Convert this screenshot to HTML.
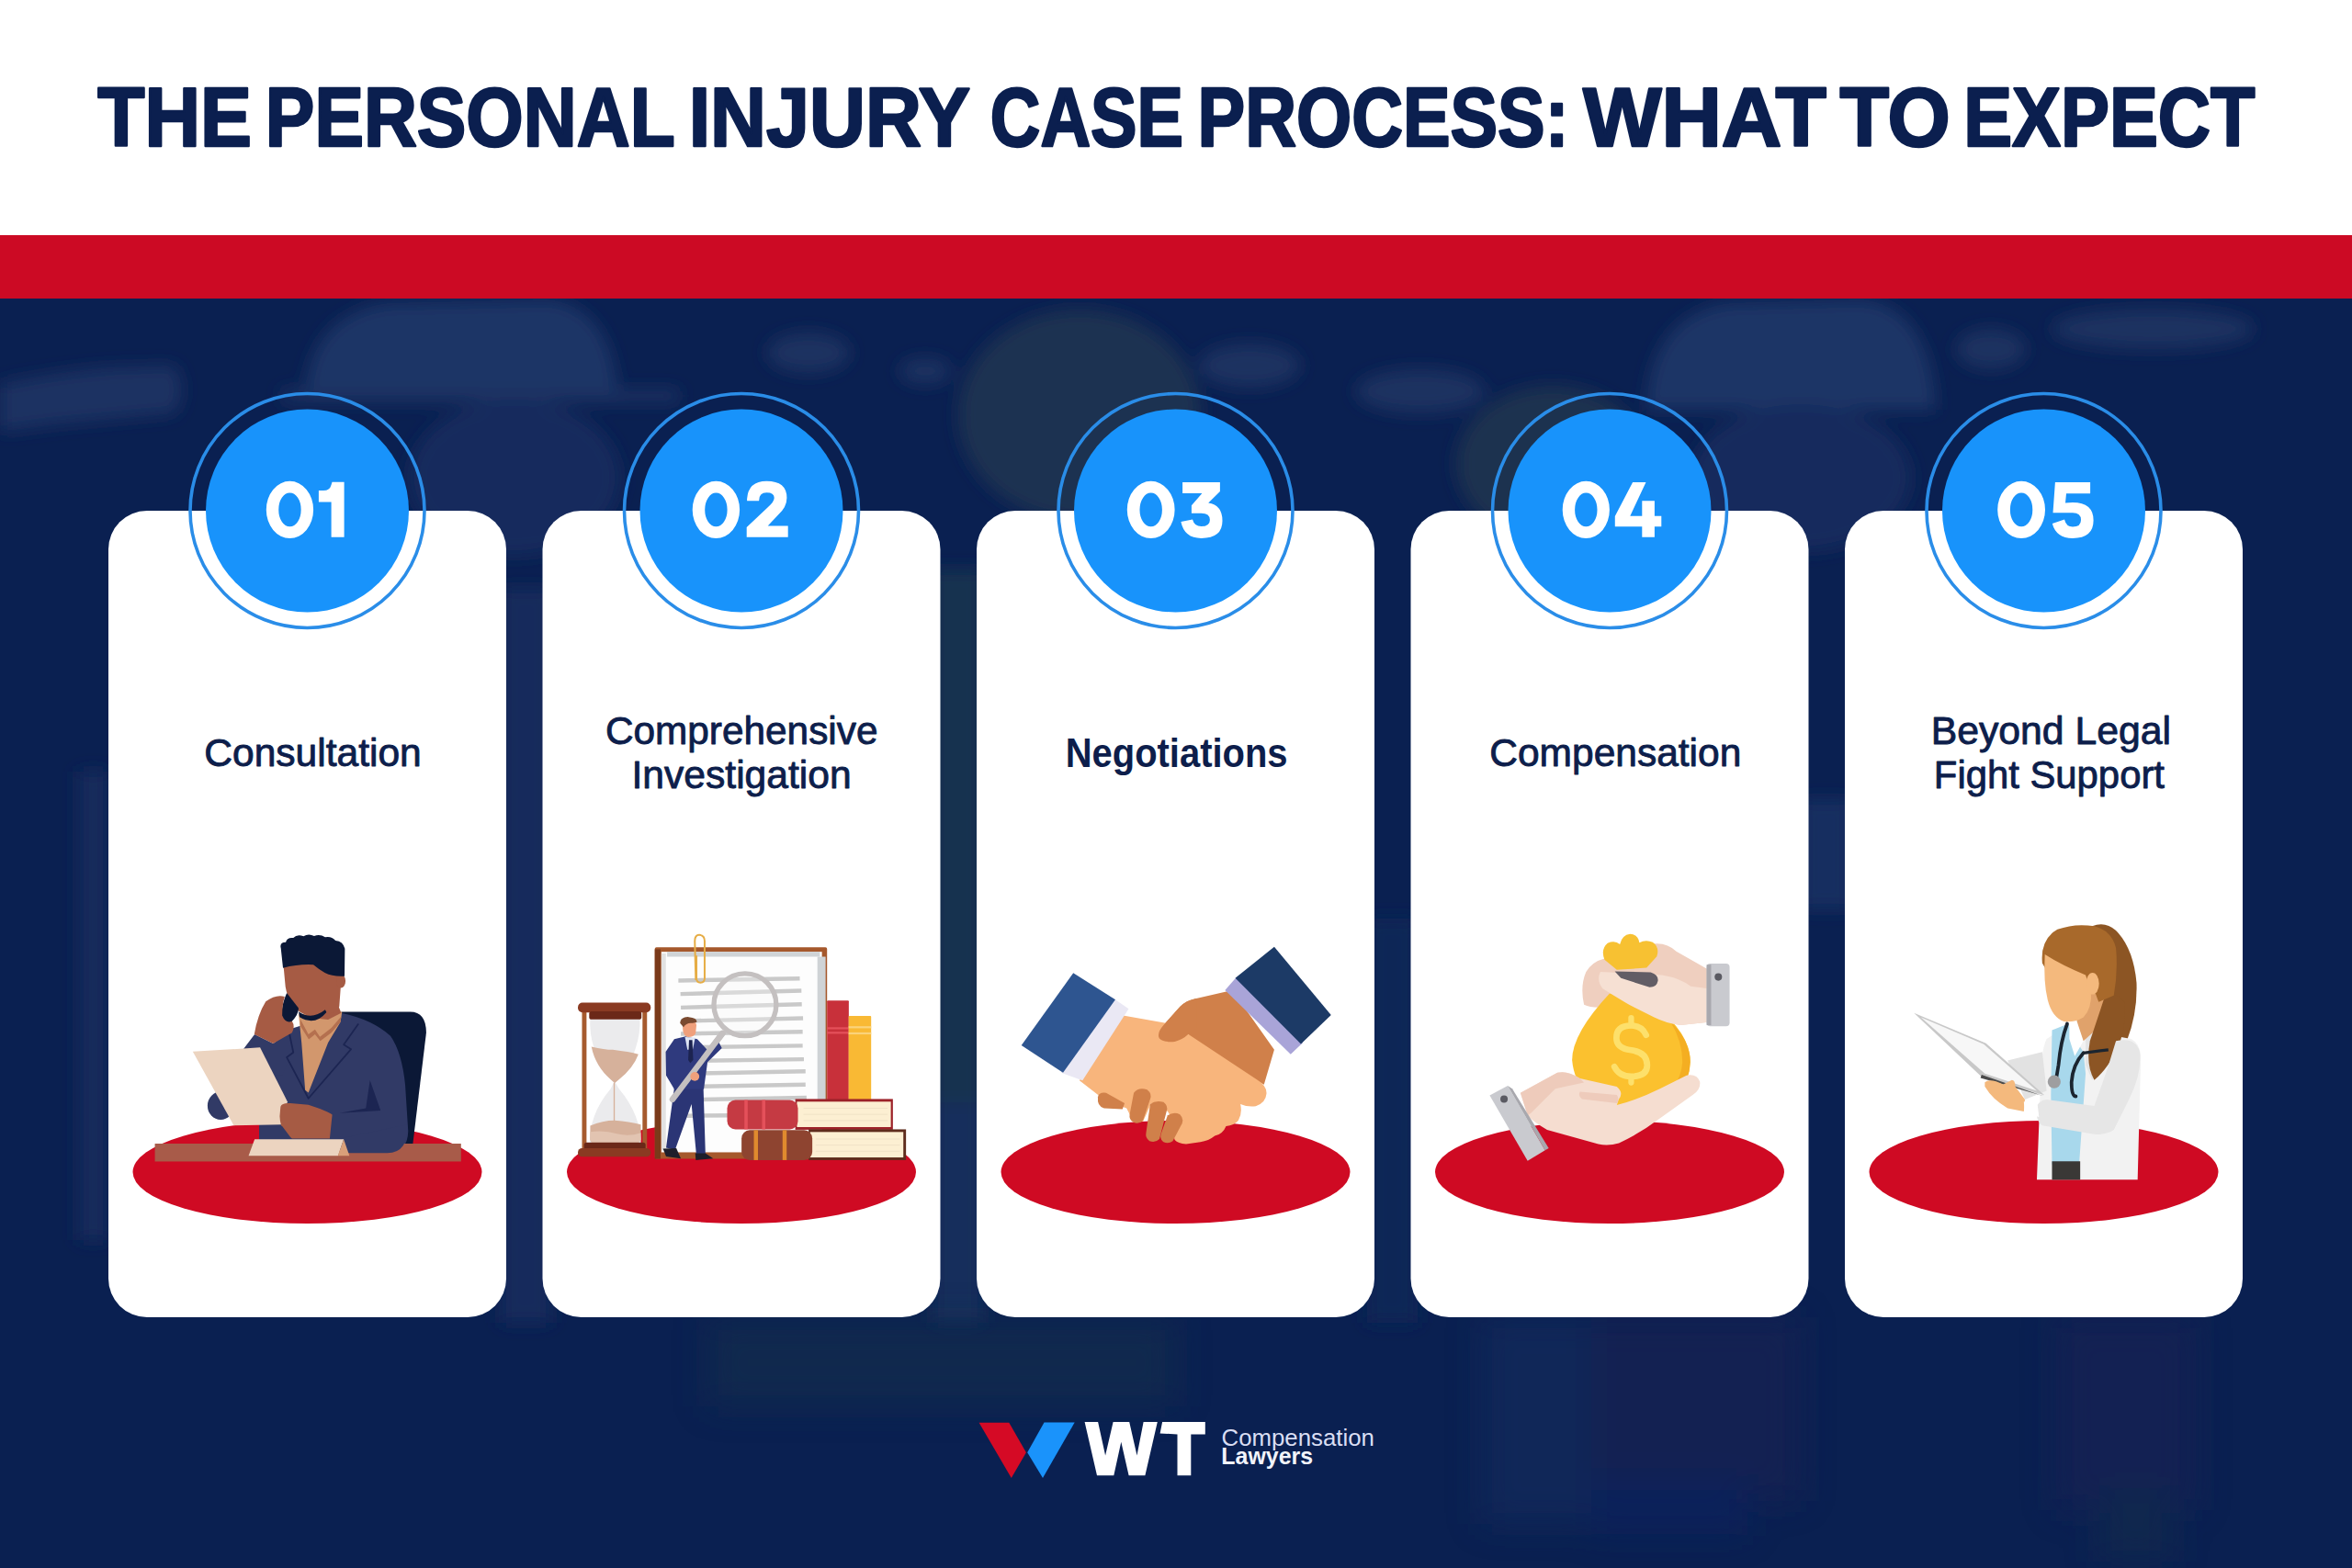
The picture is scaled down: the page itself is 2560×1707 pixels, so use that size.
<!DOCTYPE html>
<html><head><meta charset="utf-8"><title>The Personal Injury Case Process: What to Expect</title>
<style>
html,body{margin:0;padding:0;background:#0a2051;}
body{width:2560px;height:1707px;overflow:hidden;}
svg{display:block;font-family:"Liberation Sans",sans-serif;}
</style></head>
<body>
<svg width="2560" height="1707" viewBox="0 0 2560 1707">
<defs>
<clipPath id="navyclip"><rect x="0" y="325" width="2560" height="1382"/></clipPath>
<filter id="soft2" x="-30%" y="-30%" width="160%" height="160%"><feGaussianBlur stdDeviation="18"/></filter>
<filter id="soft" x="-20%" y="-20%" width="140%" height="140%"><feGaussianBlur stdDeviation="9"/></filter>
<radialGradient id="gW"><stop offset="0" stop-color="#26406f" stop-opacity="0.85"/><stop offset="0.6" stop-color="#22396a" stop-opacity="0.4"/><stop offset="1" stop-color="#1c3263" stop-opacity="0"/></radialGradient>
<radialGradient id="gY"><stop offset="0" stop-color="#2b3d52" stop-opacity="0.85"/><stop offset="0.6" stop-color="#243850" stop-opacity="0.4"/><stop offset="1" stop-color="#1c3250" stop-opacity="0"/></radialGradient>
<radialGradient id="gD"><stop offset="0" stop-color="#081a45" stop-opacity="0.7"/><stop offset="1" stop-color="#081a45" stop-opacity="0"/></radialGradient>
</defs>

<rect x="0" y="0" width="2560" height="256" fill="#ffffff"/>
<rect x="0" y="256" width="2560" height="70" fill="#cc0a24"/>
<rect x="0" y="325" width="2560" height="1382" fill="#0a2051"/>
<g clip-path="url(#navyclip)"><g>

<g filter="url(#soft)">
<path d="M0,418 Q60,405 120,400 L190,398 Q205,425 190,450 L60,462 L0,470 Z" fill="#1b3262"/>
<path d="M332,434 Q335,345 420,330 L600,326 Q668,338 672,434 Z" fill="#1c3566"/>
<rect x="305" y="424" width="435" height="14" rx="7" fill="#1a3262"/>
<ellipse cx="560" cy="520" rx="115" ry="85" fill="#172c5d"/>
<ellipse cx="880" cy="384" rx="45" ry="22" fill="#1a3061"/>
<ellipse cx="1007" cy="404" rx="28" ry="14" fill="#1a3061"/>
<ellipse cx="1175" cy="452" rx="132" ry="115" fill="#1e3151"/>
<ellipse cx="1360" cy="398" rx="55" ry="24" fill="#1a3061"/>
<ellipse cx="1546" cy="426" rx="70" ry="24" fill="#1a3061"/>
<ellipse cx="1690" cy="505" rx="105" ry="85" fill="#1d3050"/>
<path d="M1792,446 Q1795,345 1880,330 L2030,326 Q2102,338 2107,446 Z" fill="#1c3566"/>
<ellipse cx="1960" cy="520" rx="120" ry="80" fill="#172c5d"/>
<ellipse cx="2167" cy="380" rx="38" ry="22" fill="#1a3061"/>
<ellipse cx="2343" cy="358" rx="110" ry="22" fill="#1a3061"/>
<rect x="85" y="840" width="33" height="510" fill="#152a5c"/>
<rect x="545" y="640" width="55" height="800" fill="#13295b"/>
<rect x="1015" y="620" width="55" height="580" fill="#163150"/>
<rect x="1015" y="1200" width="55" height="240" fill="#152d5c"/>
<rect x="1488" y="1000" width="55" height="440" fill="#0f2656"/>
<rect x="1960" y="870" width="55" height="120" fill="#162f60"/>
</g>

</g></g>
<g filter="url(#soft2)" opacity="0.5">
<rect x="770" y="1436" width="510" height="95" fill="#16304b"/>
<rect x="1612" y="1434" width="120" height="225" fill="#172d61"/>
<rect x="1732" y="1434" width="228" height="200" fill="#1a2352"/>
<rect x="1732" y="1610" width="170" height="60" fill="#0c2463"/>
<rect x="2238" y="1434" width="152" height="210" fill="#1b2354"/>
<rect x="2285" y="1620" width="80" height="80" fill="#182f4c"/>
</g>

<text transform="translate(106.28,158.60) scale(0.9204,1)" font-size="91.13372093023256" font-weight="bold" fill="#0b1f4f" stroke="#0b1f4f" stroke-width="2.6" stroke-linejoin="round" >THE</text>
<text transform="translate(288.86,158.60) scale(0.8805,1)" font-size="91.13372093023256" font-weight="bold" fill="#0b1f4f" stroke="#0b1f4f" stroke-width="2.6" stroke-linejoin="round" >PERSONAL</text>
<text transform="translate(749.65,158.60) scale(0.9260,1)" font-size="91.13372093023256" font-weight="bold" fill="#0b1f4f" stroke="#0b1f4f" stroke-width="2.6" stroke-linejoin="round" >INJURY</text>
<text transform="translate(1077.76,158.60) scale(0.8300,1)" font-size="91.13372093023256" font-weight="bold" fill="#0b1f4f" stroke="#0b1f4f" stroke-width="2.6" stroke-linejoin="round" >CASE</text>
<text transform="translate(1303.61,158.60) scale(0.8485,1)" font-size="91.13372093023256" font-weight="bold" fill="#0b1f4f" stroke="#0b1f4f" stroke-width="2.6" stroke-linejoin="round" >PROCESS:</text>
<text transform="translate(1722.89,158.60) scale(0.9940,1)" font-size="91.13372093023256" font-weight="bold" fill="#0b1f4f" stroke="#0b1f4f" stroke-width="2.6" stroke-linejoin="round" >WHAT</text>
<text transform="translate(2002.49,158.60) scale(0.9625,1)" font-size="91.13372093023256" font-weight="bold" fill="#0b1f4f" stroke="#0b1f4f" stroke-width="2.6" stroke-linejoin="round" >TO</text>
<text transform="translate(2137.21,158.60) scale(0.8705,1)" font-size="91.13372093023256" font-weight="bold" fill="#0b1f4f" stroke="#0b1f4f" stroke-width="2.6" stroke-linejoin="round" >EXPECT</text>
<rect x="118" y="556" width="433" height="878" rx="42" ry="42" fill="#ffffff"/>
<circle cx="334.5" cy="556" r="127.5" fill="none" stroke="#2a8de8" stroke-width="3.6"/>
<circle cx="334.5" cy="556" r="110.5" fill="#1893fb"/>
<path fill-rule="evenodd" fill="#ffffff" d="M289.80,554.9 a25.65,31.1 0 1,0 51.30,0 a25.65,31.1 0 1,0 -51.30,0 Z M303.25,554.9 a12.2,18.4 0 1,0 24.4,0 a12.2,18.4 0 1,0 -24.4,0 Z"/>
<path d="M374.6,524.8 L374.6,584.8 L360.6,584.8 L360.6,546.5 L346.9,546.5 L346.9,534 L352,534 Q359,534 360.5,528 L361.5,524.8 Z" fill="#ffffff"/>
<ellipse cx="334.5" cy="1276" rx="190" ry="56" fill="#cf0a23"/>
<g transform="translate(200,1010) scale(0.17857)">
<!-- chair back -->
<path d="M960,512 L1380,512 Q1478,512 1478,640 L1395,1330 L960,1330 Z" fill="#0b1836"/>
<!-- lower left elbow behind paper -->
<ellipse cx="225" cy="1085" rx="80" ry="85" fill="#313a66"/>
<!-- torso -->
<path d="M560,700 L640,620 L960,520 Q1150,560 1260,660 Q1330,760 1350,960 L1368,1240 Q1365,1370 1240,1372 L1000,1372 L880,1330 L460,1300 L460,1150 Z" fill="#313a66"/>
<!-- raised arm sleeve -->
<path d="M365,738 L432,650 L545,705 L640,640 L660,760 L600,900 L470,900 Z" fill="#313a66"/>
<!-- shirt -->
<path d="M700,528 L965,512 L955,575 L880,700 L760,1005 L740,990 L718,700 Z" fill="#d2976d"/>
<!-- collar -->
<path d="M712,560 L760,650 L800,620 L830,665 L900,610 L960,540 L955,575 L900,640 L832,690 L800,650 L762,680 L712,600 Z" fill="#b4704f"/>
<!-- lapel lines -->
<path d="M645,650 L668,760 L628,790 L760,1040 L1020,740 L975,712 L1065,585" fill="none" stroke="#1c2552" stroke-width="10" stroke-linejoin="round"/>
<!-- arm crease -->
<path d="M1135,930 L1110,1100 L950,1130 L1200,1115 Z" fill="#1c2552"/>
<!-- neck -->
<path d="M760,480 L940,470 L960,520 L880,560 L740,545 Z" fill="#a65b44"/>
<!-- face -->
<path d="M605,200 L965,200 L965,245 L965,245 L948,480 Q935,520 870,525 L770,540 Q700,520 660,470 Q630,420 620,360 Z" fill="#a65b44"/>
<!-- ear -->
<ellipse cx="958" cy="325" rx="28" ry="42" fill="#a65b44"/>
<!-- beard -->
<path d="M700,512 Q780,565 862,500 L870,515 Q800,600 706,545 Z" fill="#0b1836"/>
<!-- hair -->
<path d="M605,245 L592,125 Q582,88 622,88 Q628,58 668,62 Q690,38 730,52 Q760,32 795,50 Q830,36 862,58 Q900,50 925,78 Q972,82 982,128 L980,295 Q910,300 860,275 Q820,250 790,225 Q700,220 605,245 Z" fill="#0b1836"/>
<!-- phone -->
<path d="M628,398 Q595,470 596,540 Q610,590 655,575 Q700,530 700,490 Z" fill="#0b1836"/>
<!-- phone hand -->
<path d="M430,650 Q450,530 500,450 Q560,405 615,420 Q600,470 600,535 Q620,585 660,570 Q680,600 660,640 L545,705 Z" fill="#a65b44"/>
<!-- paper -->
<path d="M55,755 L465,730 L632,1060 L600,1200 L305,1205 Z" fill="#ecd4c0"/>
<!-- paper hand -->
<path d="M590,1090 Q600,1065 650,1070 L760,1080 Q880,1120 905,1140 L890,1285 L660,1285 Q590,1250 585,1150 Z" fill="#a65b44"/>
<!-- lower torso over desk -->
<path d="M460,1210 L600,1210 L660,1290 L460,1300 Z" fill="#313a66"/>
<!-- desk -->
<rect x="-176" y="1316" width="1866" height="109" fill="#a85b49"/>
<!-- arm resting on desk -->
<path d="M880,1300 L1362,1200 Q1372,1372 1240,1374 L1010,1374 Q930,1362 880,1300 Z" fill="#313a66"/>
<!-- nameplate -->
<path d="M432,1290 L975,1290 L940,1390 L395,1390 Z" fill="#ecd4c0"/>
<path d="M975,1290 L1010,1390 L940,1390 Z" fill="#d9a07a"/>
</g>

<rect x="590.5" y="556" width="433" height="878" rx="42" ry="42" fill="#ffffff"/>
<circle cx="807.0" cy="556" r="127.5" fill="none" stroke="#2a8de8" stroke-width="3.6"/>
<circle cx="807.0" cy="556" r="110.5" fill="#1893fb"/>
<path fill-rule="evenodd" fill="#ffffff" d="M753.70,554.9 a25.70,31.1 0 1,0 51.40,0 a25.70,31.1 0 1,0 -51.40,0 Z M767.20,554.9 a12.2,18.4 0 1,0 24.4,0 a12.2,18.4 0 1,0 -24.4,0 Z"/>
<path d="M813.1,545.2 L813.1,543 Q814.5,523.8 834.4,523.8 Q856.4,523.8 856.4,542 Q856.4,552 847,560.5 L835.7,572.6 L857.7,572.6 L857.7,584.8 L812.7,584.8 L812.7,574 L836,552 Q842.7,546 842.7,542 Q842.7,536.3 834.4,536.3 Q826.1,536.3 826.1,545.2 Z" fill="#ffffff"/>
<ellipse cx="807.0" cy="1276" rx="190" ry="56" fill="#cf0a23"/>
<g transform="translate(600,1000) scale(0.2232)">
<!-- clipboard -->
<rect x="505" y="140" width="840" height="1032" rx="8" fill="#a5582c"/>
<rect x="505" y="150" width="28" height="1022" fill="#7a3a1a"/>
<rect x="537" y="162" width="783" height="978" fill="#fdfdfd"/>
<rect x="565" y="162" width="745" height="24" fill="#cfd3d6"/>
<rect x="1298" y="186" width="40" height="700" fill="#cfd3d6"/>
<rect x="537" y="170" width="22" height="960" fill="#e2e2e2"/>
<g stroke="#c9c9c9" stroke-width="20">
<line x1="620" y1="302" x2="1212" y2="292"/>
<line x1="630" y1="368" x2="1220" y2="352"/>
<line x1="632" y1="434" x2="1222" y2="418"/>
<line x1="632" y1="500" x2="1228" y2="486"/>
<line x1="632" y1="562" x2="1226" y2="552"/>
<line x1="660" y1="628" x2="1226" y2="620"/>
<line x1="660" y1="694" x2="1232" y2="686"/>
<line x1="660" y1="756" x2="1240" y2="745"/>
<line x1="660" y1="820" x2="1240" y2="810"/>
<line x1="660" y1="884" x2="1245" y2="874"/>
<line x1="660" y1="962" x2="880" y2="960"/>
</g>
<!-- paperclip -->
<path d="M705,300 L700,110 Q700,80 722,80 Q748,80 748,110 L748,290 Q748,312 728,312 Q708,312 708,290 L708,180" fill="none" stroke="#e6ad45" stroke-width="9"/>
<!-- magnifier -->
<circle cx="945" cy="420" r="152" fill="#f7f7f7" fill-opacity="0.35" stroke="#c4c0c0" stroke-width="24"/>
<line x1="835" y1="560" x2="592" y2="882" stroke="#c4c0c0" stroke-width="30" stroke-linecap="round"/>
<!-- man -->
<path d="M600,825 L742,825 L752,1150 L708,1156 L684,905 L604,1128 L560,1118 Z" fill="#2b3575"/>
<path d="M600,588 L655,575 L712,588 L760,640 L818,605 L832,632 L762,700 L744,832 L600,832 L560,765 L558,650 Z" fill="#2f3a7e"/>
<path d="M652,578 L702,580 L690,640 L664,640 Z" fill="#dfe6f5"/>
<path d="M672,592 L688,592 L692,690 L678,705 L668,690 Z" fill="#1c2350"/>
<path d="M640,505 Q645,490 672,490 Q705,495 708,520 L704,560 Q695,578 668,578 Q645,572 642,545 Z" fill="#f0a07c"/>
<path d="M628,510 Q632,478 670,480 Q712,484 710,505 L690,510 Q660,505 645,530 Z" fill="#7a4a30"/>
<line x1="835" y1="560" x2="592" y2="882" stroke="#c4c0c0" stroke-width="28" stroke-linecap="round"/>
<circle cx="700" cy="770" r="22" fill="#f0a07c"/>
<path d="M545,1122 L610,1120 L632,1170 L560,1160 Z" fill="#1e1e2a"/>
<path d="M702,1145 L752,1145 L790,1170 L705,1178 Z" fill="#1e1e2a"/>
<!-- hourglass -->
<path d="M190,480 L432,480 Q440,640 330,780 L312,800 L330,830 Q440,960 438,1110 L188,1110 Q180,960 290,830 L305,800 L288,780 Q180,640 190,480 Z" fill="#ebebed"/>
<path d="M196,625 Q260,640 300,640 Q380,650 425,662 Q400,730 330,785 L310,802 L290,785 Q215,720 196,625 Z" fill="#d6b19b"/>
<rect x="304" y="800" width="6" height="190" fill="#d6b19b"/>
<path d="M190,1010 Q250,985 310,985 Q380,990 437,1005 L437,1080 Q420,1105 390,1108 L230,1108 Q195,1100 190,1080 Z" fill="#d6b19b"/>
<path d="M190,1040 Q260,1030 320,1050 Q380,1065 437,1045 L437,1080 Q420,1105 390,1108 L230,1108 Q195,1100 190,1080 Z" fill="#e2c4b1"/>
<rect x="150" y="448" width="22" height="695" fill="#a65a2e"/>
<rect x="445" y="448" width="22" height="695" fill="#a65a2e"/>
<rect x="130" y="410" width="355" height="48" rx="22" fill="#8a3a22"/>
<rect x="185" y="452" width="255" height="40" rx="12" fill="#6b2818"/>
<rect x="160" y="1092" width="300" height="40" rx="12" fill="#6b2818"/>
<rect x="130" y="1120" width="355" height="42" rx="20" fill="#8a3a22"/>
<!-- standing books -->
<rect x="1345" y="400" width="106" height="485" rx="4" fill="#c8303a"/>
<rect x="1345" y="530" width="106" height="10" fill="#e4505a"/>
<rect x="1345" y="552" width="106" height="10" fill="#e4505a"/>
<rect x="1450" y="475" width="110" height="410" rx="4" fill="#f9b934"/>
<rect x="1450" y="525" width="110" height="10" fill="#fbd37a"/>
<rect x="1450" y="555" width="110" height="10" fill="#fbd37a"/>
<!-- stack top red -->
<rect x="1190" y="880" width="476" height="150" fill="#9c2229"/>
<rect x="1198" y="893" width="458" height="124" fill="#fcefd2"/>
<g stroke="#eadcc0" stroke-width="3"><line x1="1230" y1="925" x2="1640" y2="925"/><line x1="1230" y1="955" x2="1640" y2="955"/><line x1="1230" y1="985" x2="1640" y2="985"/></g>
<rect x="858" y="885" width="345" height="143" rx="40" fill="#c53a43"/>
<rect x="942" y="885" width="16" height="143" fill="#e4505a"/>
<rect x="1028" y="885" width="16" height="143" fill="#e4505a"/>
<!-- stack bottom brown -->
<rect x="1255" y="1028" width="475" height="150" fill="#5e2c1c"/>
<rect x="1262" y="1041" width="455" height="124" fill="#fcefd2"/>
<g stroke="#eadcc0" stroke-width="3"><line x1="1290" y1="1075" x2="1700" y2="1075"/><line x1="1290" y1="1105" x2="1700" y2="1105"/><line x1="1290" y1="1135" x2="1700" y2="1135"/></g>
<rect x="928" y="1032" width="345" height="146" rx="40" fill="#8e4430"/>
<rect x="988" y="1032" width="20" height="146" fill="#e08a2e"/>
<rect x="1128" y="1032" width="20" height="146" fill="#e08a2e"/>
</g>

<rect x="1063" y="556" width="433" height="878" rx="42" ry="42" fill="#ffffff"/>
<circle cx="1279.5" cy="556" r="127.5" fill="none" stroke="#2a8de8" stroke-width="3.6"/>
<circle cx="1279.5" cy="556" r="110.5" fill="#1893fb"/>
<path fill-rule="evenodd" fill="#ffffff" d="M1226.80,554.9 a25.90,31.1 0 1,0 51.80,0 a25.90,31.1 0 1,0 -51.80,0 Z M1240.50,554.9 a12.2,18.4 0 1,0 24.4,0 a12.2,18.4 0 1,0 -24.4,0 Z"/>
<path d="M1287.1,525.1 L1327.9,525.1 L1327.9,535 L1315.2,547.6 Q1330.5,550 1330.5,567 Q1330.5,585.9 1307.5,585.9 Q1289,585.9 1285.4,568 L1298,565.5 Q1300,573.1 1307.5,573.1 Q1316.9,573.1 1316.9,566 Q1316.9,558.7 1307.5,558.7 L1296.9,558.7 L1296.9,550.2 L1308.4,537 L1287.1,537 Z" fill="#ffffff"/>
<ellipse cx="1279.5" cy="1276" rx="190" ry="56" fill="#cf0a23"/>
<g transform="translate(1070,1000) scale(0.2232)">
<!-- right (dark) hand back -->
<path d="M1215,350 L1030,392 Q990,400 960,430 L880,520 Q845,560 860,585 Q880,605 935,600 Q975,590 1000,565 L1060,640 L1370,810 L1420,640 Z" fill="#d0804a"/>
<!-- right cuff -->
<path d="M1180,350 L1237,285 L1560,605 L1500,662 Z" fill="#a9a4d8"/>
<!-- right sleeve -->
<path d="M1420,138 L1697,470 L1550,612 L1230,290 Z" fill="#1c3a66"/>
<!-- light hand -->
<path d="M670,470 L885,508 Q960,530 1010,570 L1335,785 Q1385,815 1382,855 Q1378,900 1330,915 Q1290,920 1255,905 Q1265,950 1245,985 Q1225,1010 1185,1012 Q1170,1050 1130,1060 Q1100,1085 1060,1090 L990,1100 Q950,1098 935,1080 Q920,1050 935,1000 L900,940 L820,900 L780,990 L735,995 L700,925 Q650,905 600,890 L470,790 Z" fill="#f8b57c"/>
<!-- dark thumb over light hand -->
<path d="M1040,390 Q990,400 960,430 L880,520 Q845,560 860,585 Q880,605 935,600 Q975,590 1000,565 L1040,535 Z" fill="#d0804a"/>
<!-- dark fingers over light hand -->
<path d="M560,870 Q565,845 600,850 L690,900 L680,930 L590,925 Q555,915 560,870 Z" fill="#d0804a"/>
<path d="M735,850 Q760,820 800,835 Q825,855 815,880 L780,985 Q760,1005 735,995 Q710,980 715,955 Z" fill="#d0804a"/>
<path d="M815,905 Q840,885 880,895 Q905,915 895,940 L860,1075 Q840,1095 812,1085 Q790,1070 795,1045 Z" fill="#d0804a"/>
<path d="M900,960 Q930,940 960,955 Q980,975 970,1000 L925,1085 Q905,1100 880,1090 Q860,1075 868,1050 Z" fill="#d0804a"/>
<!-- left cuff -->
<path d="M630,385 L710,440 L485,790 L380,752 Z" fill="#eae8f4"/>
<!-- left sleeve -->
<path d="M440,265 L645,395 L390,752 L187,618 Z" fill="#2e5590"/>
</g>

<rect x="1535.5" y="556" width="433" height="878" rx="42" ry="42" fill="#ffffff"/>
<circle cx="1752.0" cy="556" r="127.5" fill="none" stroke="#2a8de8" stroke-width="3.6"/>
<circle cx="1752.0" cy="556" r="110.5" fill="#1893fb"/>
<path fill-rule="evenodd" fill="#ffffff" d="M1700.70,554.9 a25.60,31.1 0 1,0 51.20,0 a25.60,31.1 0 1,0 -51.20,0 Z M1714.10,554.9 a12.2,18.4 0 1,0 24.4,0 a12.2,18.4 0 1,0 -24.4,0 Z"/>
<path d="M1777.1,524.9 L1791.5,524.9 L1774.3,561.7 L1787.3,561.7 L1787.3,545.2 L1800.9,545.2 L1800.9,561.7 L1808.3,561.7 L1808.3,573.3 L1800.9,573.3 L1800.9,584.8 L1787.3,584.8 L1787.3,573.3 L1757.8,573.3 L1757.8,562 Z" fill="#ffffff"/>
<ellipse cx="1752.0" cy="1276" rx="190" ry="56" fill="#cf0a23"/>
<g transform="translate(1550,1000) scale(0.2232)">
<!-- upper hand back -->
<path d="M780,420 Q760,330 790,260 Q820,210 880,195 L1100,125 Q1180,110 1230,160 L1380,245 L1385,505 L1250,520 Q1150,500 1080,470 Q1000,450 900,430 Q820,440 780,420 Z" fill="#efcfbf"/>
<!-- money bag body -->
<path d="M905,365 L1120,420 Q1300,560 1298,700 Q1290,905 1000,915 Q740,905 722,690 Q722,560 905,365 Z" fill="#fbc12f"/>
<path d="M1200,500 Q1300,600 1298,700 Q1290,880 1100,910 Q1250,840 1260,700 Q1260,600 1200,500 Z" fill="#f4ae22"/>
<!-- dollar sign -->
<path d="M1083,568 Q1062,522 1010,522 Q938,522 938,582 Q938,632 1010,642 Q1088,652 1088,716 Q1088,770 1010,770 Q952,770 928,722" fill="none" stroke="#fde06b" stroke-width="30" stroke-linecap="round"/>
<path d="M1010,484 L1010,520 M1010,772 L1010,800" stroke="#fde06b" stroke-width="28" stroke-linecap="round"/>
<!-- bag knot -->
<path d="M880,200 Q860,150 895,120 Q930,105 955,125 Q965,80 1005,75 Q1045,78 1050,118 Q1080,100 1115,115 Q1150,140 1135,185 L1085,240 L940,250 Z" fill="#f7c132"/>
<!-- upper fingers wrapping -->
<path d="M860,260 L1160,275 Q1250,290 1300,330 L1380,340 L1385,505 L1250,520 Q1180,510 1120,480 L1000,420 Q900,360 870,340 Q840,300 860,260 Z" fill="#f6e0d3"/>
<!-- dark strap / thumbnail -->
<path d="M930,258 L1105,262 Q1145,275 1140,305 Q1135,335 1100,335 L960,290 Z" fill="#625d65"/>
<!-- upper cuff -->
<rect x="1378" y="220" width="112" height="305" rx="18" fill="#c9cacf"/>
<rect x="1378" y="225" width="22" height="295" fill="#a8a8ae"/>
<circle cx="1435" cy="285" r="18" fill="#5a5a62"/>
<!-- lower hand -->
<path d="M470,850 L650,752 Q700,740 760,780 L940,820 Q975,850 950,880 L940,910 Q1050,880 1150,830 L1280,765 Q1330,755 1345,795 Q1350,835 1310,860 L1150,975 Q1050,1050 950,1095 Q900,1110 850,1100 L600,1030 Q530,990 505,960 Z" fill="#f5ddd0"/>
<path d="M470,850 L650,752 Q700,740 760,780 L780,800 L640,830 L520,950 L505,960 Z" fill="#eecbbb"/>
<path d="M760,845 L940,860 Q955,880 940,900 L770,880 Q750,865 760,845 Z" fill="#eecbbb"/>
<!-- lower cuff -->
<path d="M320,862 L408,815 L590,1130 L505,1182 Z" fill="#c9cacf"/>
<path d="M408,815 L430,830 L608,1120 L590,1130 Z" fill="#a8a8ae"/>
<circle cx="390" cy="880" r="18" fill="#5a5a62"/>
</g>

<rect x="2008" y="556" width="433" height="878" rx="42" ry="42" fill="#ffffff"/>
<circle cx="2224.5" cy="556" r="127.5" fill="none" stroke="#2a8de8" stroke-width="3.6"/>
<circle cx="2224.5" cy="556" r="110.5" fill="#1893fb"/>
<path fill-rule="evenodd" fill="#ffffff" d="M2174.20,554.9 a25.90,31.1 0 1,0 51.80,0 a25.90,31.1 0 1,0 -51.80,0 Z M2187.90,554.9 a12.2,18.4 0 1,0 24.4,0 a12.2,18.4 0 1,0 -24.4,0 Z"/>
<path d="M2236.9,524.9 L2275.1,524.9 L2275.1,537.2 L2249,537.2 L2248,547.6 Q2252,547 2256,547 Q2278.6,547 2278.6,566.5 Q2278.6,585.9 2256,585.9 Q2238,585.9 2233.8,570 L2247,565.5 Q2249,573.6 2256,573.6 Q2265,573.6 2265,566 Q2265,558.2 2256,558.2 L2234.5,558.2 Z" fill="#ffffff"/>
<ellipse cx="2224.5" cy="1276" rx="190" ry="56" fill="#cf0a23"/>
<g transform="translate(2020,980) scale(0.2359)">
<!-- ponytail back hair -->
<path d="M1090,120 Q1150,95 1200,140 Q1280,220 1295,380 Q1300,520 1250,650 Q1200,760 1110,830 L1060,700 L1060,300 Z" fill="#8c5524"/>
<!-- coat torso -->
<path d="M880,640 L990,570 L1060,600 L1160,620 L1270,640 Q1310,660 1315,720 L1300,1290 L835,1290 L850,900 Q850,700 880,640 Z" fill="#f2f2f2"/>
<!-- scrubs -->
<path d="M905,600 L980,570 L1010,640 L1050,700 L1060,800 L1030,1220 L905,1220 L900,900 Z" fill="#a8d8ec"/>
<!-- pants -->
<rect x="905" y="1205" width="130" height="85" fill="#3a3836"/>
<!-- shirt V white collar -->
<path d="M985,560 L1030,555 L1050,650 L1010,720 L985,640 Z" fill="#ffffff"/>
<!-- coat right lapel / shadow -->
<path d="M1060,600 L1160,620 L1140,760 L1090,830 L1060,760 Z" fill="#e4e4e4"/>
<!-- neck -->
<path d="M1010,430 L1150,430 L1150,560 L1050,650 L1020,560 Z" fill="#e0a26b"/>
<!-- ponytail front lock over shoulder -->
<path d="M1150,440 Q1200,420 1240,470 Q1250,600 1200,700 Q1150,790 1100,830 Q1060,760 1080,650 Q1110,560 1150,440 Z" fill="#8c5524"/>
<!-- head hair top -->
<path d="M860,290 Q850,180 930,135 Q1010,105 1100,120 Q1180,140 1200,220 Q1210,330 1190,440 L1120,470 L1080,360 L900,360 Z" fill="#a8692b"/>
<!-- face -->
<path d="M872,250 Q950,300 1060,345 L1085,420 Q1090,500 1050,540 Q1010,565 960,560 Q905,540 885,460 Q865,380 872,250 Z" fill="#f4b97d"/>
<!-- ear -->
<ellipse cx="1092" cy="385" rx="30" ry="50" fill="#f4b97d"/>
<!-- stethoscope -->
<path d="M975,570 Q945,650 935,760 L925,820" fill="none" stroke="#1b2530" stroke-width="16" stroke-linecap="round"/>
<path d="M1050,705 Q1000,760 995,840 Q995,905 1015,905" fill="none" stroke="#1b2530" stroke-width="16" stroke-linecap="round"/>
<path d="M1050,705 L1165,690" fill="none" stroke="#1b2530" stroke-width="14"/>
<circle cx="915" cy="838" r="30" fill="#9e9ea0"/>
<!-- right arm (sleeve) -->
<path d="M1200,650 Q1290,630 1310,700 Q1320,800 1260,920 L1190,1060 Q1150,1085 1100,1080 L860,1040 Q830,1020 832,960 Q840,925 880,920 L1100,950 L1160,780 Z" fill="#e6e6e6"/>
<!-- left arm behind tablet -->
<path d="M700,740 L860,700 L880,880 L780,920 Z" fill="#e2e2e2"/>
<!-- tablet -->
<path d="M268,520 L600,660 L870,900 L580,815 Z" fill="#c8c8c8"/>
<path d="M300,540 L590,665 L835,880 L595,800 Z" fill="#f7f7f7"/>
<path d="M580,805 L840,895 L870,905 L575,820 Z" fill="#4a4a4a"/>
<!-- hand -->
<path d="M595,840 Q620,820 680,850 L720,830 Q735,830 735,860 L780,920 L775,975 L700,960 Q630,920 595,860 Z" fill="#f4b97d"/>
<!-- sleeve cuff -->
<path d="M775,930 L835,918 L845,1000 L780,985 Z" fill="#ffffff"/>
</g>

<text transform="translate(222.27,834.15) scale(0.9856,1)" font-size="43.168604651162795" font-weight="normal" fill="#0d1e4b" stroke="#0d1e4b" stroke-width="0.9" stroke-linejoin="round" >Consultation</text>
<text transform="translate(658.88,810.15) scale(0.9813,1)" font-size="43.168604651162795" font-weight="normal" fill="#0d1e4b" stroke="#0d1e4b" stroke-width="0.9" stroke-linejoin="round" >Comprehensive</text>
<text transform="translate(687.50,857.85) scale(0.9869,1)" font-size="43.168604651162795" font-weight="normal" fill="#0d1e4b" stroke="#0d1e4b" stroke-width="0.9" stroke-linejoin="round" >Investigation</text>
<text transform="translate(1159.71,834.60) scale(0.8981,1)" font-size="44.47674418604652" font-weight="bold" fill="#0d1e4b"  >Negotiations</text>
<text transform="translate(1621.27,833.95) scale(0.9850,1)" font-size="43.168604651162795" font-weight="normal" fill="#0d1e4b" stroke="#0d1e4b" stroke-width="0.9" stroke-linejoin="round" >Compensation</text>
<text transform="translate(2101.67,810.15) scale(0.9903,1)" font-size="43.168604651162795" font-weight="normal" fill="#0d1e4b" stroke="#0d1e4b" stroke-width="0.9" stroke-linejoin="round" >Beyond Legal</text>
<text transform="translate(2104.83,858.15) scale(0.9692,1)" font-size="43.168604651162795" font-weight="normal" fill="#0d1e4b" stroke="#0d1e4b" stroke-width="0.9" stroke-linejoin="round" >Fight Support</text>

<polygon points="1065.6,1548.7 1098.3,1548.7 1116.9,1581.3 1100.8,1608.9" fill="#d50a25"/>
<polygon points="1136.5,1548.4 1169.7,1548.4 1135,1608.9 1118.2,1581.3" fill="#1a93fb"/>
<polygon points="1180.6,1548 1195.1,1548 1203.1,1584.4 1211.6,1548 1229.2,1548 1237.5,1584.4 1244.6,1548 1259.8,1548 1246.4,1606.3 1228.6,1606.3 1220.3,1569.7 1212.3,1606.3 1194,1606.3" fill="#ffffff"/>
<polygon points="1265.1,1548 1311.8,1548 1311.8,1561.6 1296.3,1561.6 1296.3,1606.3 1281.5,1606.3 1281.5,1561.6 1262.6,1560.4" fill="#ffffff"/>

<text transform="translate(1329.52,1573.90) scale(0.9820,1)" font-size="26.3" font-weight="normal" fill="#d9def3"  >Compensation</text>
<text transform="translate(1329.36,1593.70) scale(0.9700,1)" font-size="25.7" font-weight="bold" fill="#f2f4fb"  >Lawyers</text>
</svg>
</body></html>
